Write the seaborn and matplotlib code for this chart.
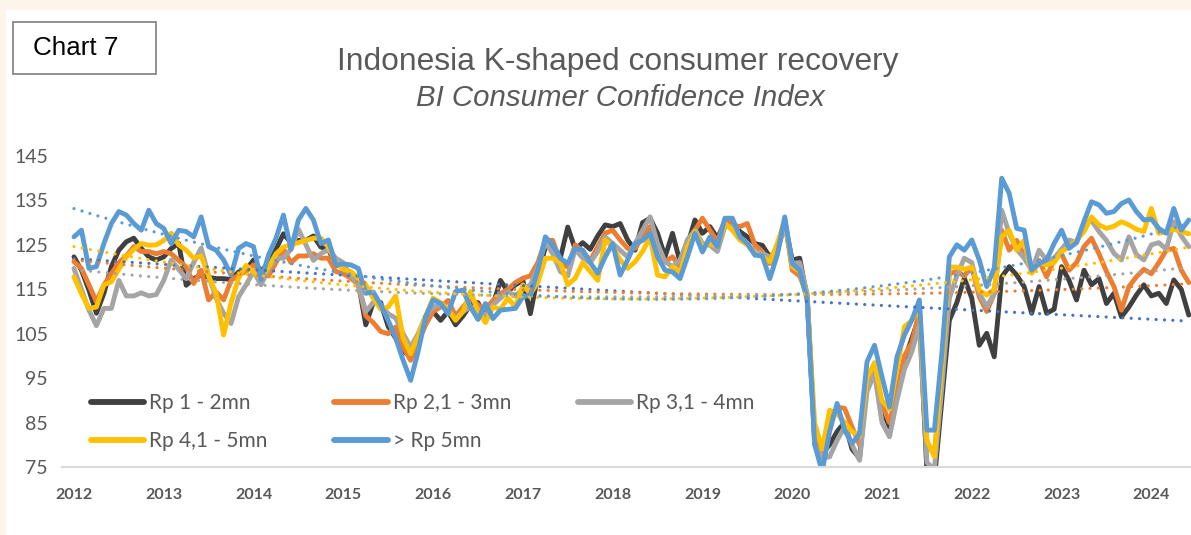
import numpy as np
import pandas as pd
import matplotlib
matplotlib.use('Agg')
import matplotlib.pyplot as plt
import seaborn as sns
from matplotlib.lines import Line2D
from matplotlib.patches import Rectangle

sns.set_style('white')
plt.rcParams['font.family'] = ['Lato', 'DejaVu Sans']

# BI Consumer Confidence Index by monthly spending group, Jan 2012 onwards
years = list(range(2012, 2025))
group_names = ['Rp 1 - 2mn', 'Rp 2,1 - 3mn', 'Rp 3,1 - 4mn', 'Rp 4,1 - 5mn', '> Rp 5mn']

rp_1_2 = [122.3, 119.3, 114.8, 109.6, 114.1, 120.1, 123.8, 125.7, 126.5, 124.2,
          122.3, 121.6, 122.3, 124.2, 125.3, 115.9, 117.4, 118.2, 117.7, 117.4,
          117.4, 117.2, 118.9, 119.3, 121.6,
          119.0, 121.0, 124.0, 127.5, 125.5, 126.0, 126.0, 127.0, 124.5, 124.0,
          120.5, 120.0, 118.5, 116.5, 107.0, 112.0, 112.0, 106.6, 104.0, 101.0,
          100.0, 104.0, 108.0, 110.0,
          108.0, 110.0, 107.0, 109.0, 111.5, 112.0, 109.0, 111.5, 117.0, 114.5,
          116.0, 117.0, 109.5, 118.0, 124.5, 125.0, 122.0, 129.0, 124.0, 125.5,
          124.0, 127.0, 129.5, 129.1,
          129.8, 126.1, 123.8, 130.0, 131.0, 127.6, 122.3, 127.6, 121.2, 125.0,
          130.6, 127.6, 129.1, 126.5, 130.2, 129.8, 128.0, 126.8, 125.3, 124.9,
          122.3, 123.8, 129.8, 121.6,
          122.0, 113.0, 81.0, 78.0, 80.0, 83.0, 85.0, 79.0, 77.0, 94.0,
          97.0, 88.0, 84.0, 92.0, 99.0, 104.0, 109.0, 74.0, 72.0, 90.0,
          108.0, 112.0, 117.5, 113.0,
          102.4, 105.1, 99.8, 117.8, 120.1, 118.2, 115.6, 109.6, 115.6, 109.6,
          110.5, 120.1, 117.0, 112.6, 119.3, 116.0, 117.4, 111.8, 114.1, 108.8,
          111.0, 113.7, 116.0, 113.5, 114.1, 111.8, 117.1, 115.0, 109.2]

rp_2_3 = [121.2, 119.7, 116.0, 112.2, 116.0, 118.5, 121.0, 122.5, 124.6, 123.5,
          123.5, 123.0, 123.5, 123.0, 121.5, 120.0, 116.3, 119.3, 112.6, 114.4,
          112.6, 117.0, 118.2, 119.0, 120.5,
          119.0, 118.0, 121.0, 124.0, 121.0, 122.5, 122.5, 123.0, 122.0, 122.0,
          119.0, 118.5, 117.5, 116.0, 109.0, 107.5, 105.5, 105.0, 106.5, 102.0,
          99.0, 103.0, 107.0, 110.0,
          111.0, 112.5, 109.0, 111.0, 113.0, 111.5, 110.5, 112.5, 114.0, 115.0,
          116.5, 117.5, 118.0, 121.0, 126.0, 126.0, 121.0, 120.0, 125.0, 123.5,
          121.5, 124.5, 127.6, 128.3,
          126.1, 124.2, 124.2, 126.8, 129.1, 123.1, 121.2, 122.3, 120.1, 126.1,
          128.3, 131.0, 128.3, 125.7, 130.6, 129.5, 129.1, 129.8, 125.0, 123.5,
          120.8, 124.2, 130.6, 119.3,
          118.0, 113.5, 82.0, 78.0, 85.0, 88.5, 88.2, 84.0, 80.0, 93.0,
          97.0, 89.0, 85.0, 92.0, 100.0, 103.0, 110.0, 80.3, 78.0, 96.0,
          118.5, 119.0, 118.0, 120.0,
          113.3, 110.0, 114.0, 128.3, 123.8, 126.0, 122.5, 120.1, 121.5, 117.8,
          121.6, 123.0, 119.3, 121.0, 124.6, 126.5, 123.0, 119.0, 115.6, 110.3,
          115.6, 117.8, 119.5, 118.5, 121.0, 123.8, 124.2, 119.3, 116.5]

rp_3_4 = [119.7, 115.0, 110.3, 106.8, 110.7, 110.7, 117.0, 113.5, 113.5, 114.2,
          113.5, 113.8, 117.0, 121.6, 119.5, 117.4, 121.0, 124.3, 118.0, 113.0,
          109.6, 107.3, 113.3, 116.0, 119.0,
          116.0, 119.5, 122.0, 122.0, 124.0, 128.5, 125.0, 121.5, 123.0, 124.0,
          122.0, 121.0, 118.0, 116.0, 110.0, 112.0, 111.5, 109.5, 108.5, 105.0,
          102.0, 105.0, 109.0, 111.0,
          111.5, 110.0, 108.5, 110.0, 111.0, 110.5, 109.0, 111.5, 113.0, 114.5,
          113.5, 115.0, 116.0, 120.0, 125.5, 123.0, 119.0, 118.0, 124.0, 122.0,
          121.0, 123.5, 126.8, 125.3,
          123.8, 122.3, 125.3, 128.3, 131.3, 125.3, 121.2, 120.1, 121.6, 126.1,
          128.3, 125.3, 124.9, 123.5, 129.1, 129.1, 126.8, 125.3, 123.5, 123.1,
          122.3, 123.1, 129.8, 120.8,
          121.0, 114.0, 80.0, 77.0, 77.3, 81.0, 84.0, 80.0, 76.5, 92.0,
          96.0, 85.0, 81.8, 90.0, 97.0, 101.0, 107.0, 76.0, 74.5, 93.0,
          113.0, 118.0, 122.0, 121.0,
          114.1, 111.1, 114.0, 132.8, 127.6, 124.0, 122.0, 119.3, 123.8, 121.5,
          122.0, 124.0, 126.1, 125.5, 129.5, 130.5, 128.0, 126.0, 123.1, 121.6,
          126.8, 122.8, 121.6, 125.0, 125.5, 124.0, 130.2, 127.0, 124.6]

rp_4_5 = [117.8, 114.0, 110.7, 111.0, 116.0, 116.7, 119.5, 122.3, 124.0, 125.3,
          124.9, 125.0, 126.0, 127.6, 125.0, 123.8, 122.0, 122.5, 118.0, 114.1,
          104.7, 112.0, 117.5, 120.4, 118.9,
          117.5, 120.0, 123.0, 124.5, 125.0, 125.5, 126.0, 126.5, 126.5, 124.5,
          121.0, 119.5, 119.0, 117.5, 116.0, 113.0, 110.5, 111.0, 113.5, 104.0,
          100.5, 104.5, 109.0, 113.0,
          112.0, 110.5, 108.0, 110.0, 114.5, 110.0, 107.5, 111.0, 110.5, 113.0,
          111.0, 116.0, 114.0, 116.5, 122.0, 122.0, 121.0, 116.0, 117.5, 121.0,
          119.0, 117.0, 126.1, 124.6,
          121.6, 119.7, 121.2, 123.5, 126.8, 118.2, 117.8, 120.1, 118.6, 124.6,
          128.0, 124.6, 125.3, 124.6, 129.8, 128.3, 126.1, 125.0, 123.1, 122.3,
          121.2, 125.3, 130.6, 120.1,
          119.0, 113.0, 85.0, 79.0, 87.8, 87.0, 85.0, 83.0, 82.0, 95.0,
          98.5, 90.0, 88.0, 97.0, 106.6, 108.0, 111.0, 81.0, 77.3, 98.0,
          120.0, 120.0, 119.5, 120.0,
          114.8, 113.7, 115.0, 126.8, 128.3, 123.8, 126.0, 118.6, 121.0, 120.5,
          121.0, 123.5, 124.5, 126.0, 128.0, 131.3, 129.5, 128.7, 129.2, 130.2,
          129.5, 128.5, 128.0, 133.2, 127.6, 128.0, 128.5, 128.0, 127.5]

rp_5_plus = [126.8, 128.3, 119.7, 120.1, 125.3, 129.8, 132.5, 131.7, 129.8, 128.3,
             132.8, 129.8, 128.7, 125.3, 128.3, 128.0, 126.8, 131.3, 124.6, 123.8,
             121.6, 118.2, 124.2, 125.3, 124.6,
             117.1, 122.7, 126.5, 131.7, 124.0, 130.6, 133.2, 130.6, 125.3, 126.1,
             120.5, 120.7, 120.5, 119.7, 114.1, 114.4, 111.5, 108.0, 104.0, 99.0,
             94.5, 101.0, 108.8, 112.6,
             111.8, 109.5, 114.5, 114.8, 111.0, 108.2, 111.8, 108.4, 110.3, 110.5,
             110.7, 113.3, 113.7, 119.3, 126.8, 125.0, 122.0, 120.8, 124.2, 123.8,
             121.0, 118.6, 122.3, 125.3,
             118.2, 121.6, 125.3, 126.0, 127.6, 122.3, 119.3, 118.9, 117.4, 122.3,
             127.6, 123.4, 126.8, 124.6, 131.0, 131.0, 126.8, 125.3, 122.7, 122.5,
             117.4, 122.7, 131.3, 120.8,
             119.3, 112.6, 80.0, 74.0, 83.0, 89.3, 83.3, 80.3, 82.5, 98.7,
             102.4, 95.3, 88.5, 99.8, 104.7, 108.1, 112.6, 83.3, 83.3, 100.6,
             122.3, 125.0, 123.8, 126.1,
             121.6, 115.6, 119.8, 140.0, 136.6, 128.7, 128.3, 119.3, 120.8, 121.6,
             125.3, 128.3, 124.2, 125.5, 130.3, 134.7, 134.0, 132.1, 132.5, 134.3,
             135.1, 132.5, 130.6, 130.8, 128.7, 127.6, 133.2, 128.3, 130.6]

group_values = [rp_1_2, rp_2_3, rp_3_4, rp_4_5, rp_5_plus]
line_colors = ['#404040', '#ED7D31', '#A5A5A5', '#FFC000', '#5B9BD5']
trend_colors = ['#4472C4', '#ED7D31', '#A5A5A5', '#FFC000', '#5B9BD5']

month_no = np.arange(len(rp_1_2))
wide = pd.DataFrame({'month': month_no})
for name, vals in zip(group_names, group_values):
    wide[name] = vals
long_df = wide.melt(id_vars='month', var_name='group', value_name='cci')

W, H = 1191, 535
fig = plt.figure(figsize=(W / 100, H / 100), dpi=100)
fig.patch.set_facecolor('#FDF5E9')
fig.patches.append(Rectangle((6 / W, 0), 1, 1 - 10 / H, transform=fig.transFigure,
                             facecolor='white', edgecolor='none', zorder=-10))

ax = fig.add_axes([62 / W, 1 - 467 / H, 1 - 62 / W, (467 - 156) / H])
ax.set_facecolor('none')

sns.lineplot(data=long_df, x='month', y='cci', hue='group', hue_order=group_names,
             palette=dict(zip(group_names, line_colors)), estimator=None,
             linewidth=3.5, legend=False, ax=ax,
             solid_capstyle='round', solid_joinstyle='round')

# 2nd-order polynomial trendlines, dotted
for name, vals, tc in zip(group_names, group_values, trend_colors):
    coef = np.polyfit(month_no, vals, 2)
    ax.plot(month_no, np.polyval(coef, month_no), color=tc, lw=2.3,
            ls=(0, (0.01, 2.6)), dash_capstyle='round', zorder=3)

ax.set_xlim(-1.6, 149.3)
ax.set_ylim(75, 145)
ax.set_xticks(np.arange(0, 12 * len(years), 12))
ax.set_xticklabels([str(y) for y in years], fontweight='bold')
ax.set_yticks(range(75, 146, 10))
ax.set_xlabel('')
ax.set_ylabel('')
ax.tick_params(axis='both', length=0, colors='#595959')
ax.tick_params(axis='y', labelsize=14, pad=10)
ax.tick_params(axis='x', labelsize=11.5, pad=15)
for side in ['top', 'right', 'left']:
    ax.spines[side].set_visible(False)
ax.spines['bottom'].set_color('#D9D9D9')
ax.spines['bottom'].set_linewidth(1.5)

handles = [Line2D([], [], color=c, lw=4.2, solid_capstyle='round') for c in line_colors]
order = [0, 3, 1, 4, 2]
leg = ax.legend([handles[k] for k in order], [group_names[k] for k in order],
                ncol=3, loc='upper left', bbox_to_anchor=(91 / W, 1 - 393 / H),
                bbox_transform=fig.transFigure, frameon=False, fontsize=15,
                handlelength=2.55, handletextpad=0.25, columnspacing=3.2,
                labelspacing=0.88, borderpad=0, borderaxespad=0)
for t in leg.get_texts():
    t.set_color('#595959')

fig.text(618 / W, 1 - 62 / H, 'Indonesia K-shaped consumer recovery',
         ha='center', va='center', fontsize=22.9, color='#595959',
         family=['Liberation Sans', 'DejaVu Sans'])
fig.text(620 / W, 1 - 98 / H, 'BI Consumer Confidence Index',
         ha='center', va='center', fontsize=21.2, color='#595959', style='italic',
         family=['Liberation Sans', 'DejaVu Sans'])

fig.patches.append(Rectangle((13 / W, 1 - 74 / H), 143 / W, 52 / H, transform=fig.transFigure,
                             facecolor='white', edgecolor='#7F7F7F', lw=1.2, zorder=1))
fig.text(33 / W, 1 - 48 / H, 'Chart 7', ha='left', va='center', fontsize=18.7,
         color='black', family=['Liberation Sans', 'DejaVu Sans'])

fig.savefig('out.png', dpi=100)
